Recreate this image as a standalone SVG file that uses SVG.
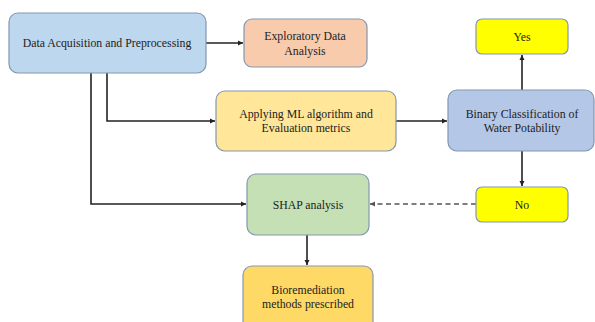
<svg xmlns="http://www.w3.org/2000/svg" width="595" height="322" viewBox="0 0 595 322">
<defs>
<style>
.box{stroke:#8497b0;stroke-width:1.2}
.t{font-family:"Liberation Serif","Times New Roman",serif;font-size:11.8px;fill:#222;text-anchor:middle}
.c{fill:none;stroke:#222;stroke-width:1.6}
.d{fill:none;stroke:#555;stroke-width:1.6;stroke-dasharray:5,3.5}
</style>
<marker id="ah" markerWidth="6" markerHeight="6" refX="5" refY="3" orient="auto" markerUnits="userSpaceOnUse">
<path d="M0,0.5 L5,3 L0,5.5 z" fill="#222"/>
</marker>
<marker id="ahg" markerWidth="6" markerHeight="6" refX="5" refY="3" orient="auto" markerUnits="userSpaceOnUse">
<path d="M0,0.5 L5,3 L0,5.5 z" fill="#555"/>
</marker>
</defs>
<rect width="595" height="322" fill="#fff"/>
<g id="connectors">
<path class="c" d="M206,43 H243" marker-end="url(#ah)"/>
<path class="c" d="M107,73 V121 H215" marker-end="url(#ah)"/>
<path class="c" d="M91,73 V204 H246" marker-end="url(#ah)"/>
<path class="c" d="M396,121 H447" marker-end="url(#ah)"/>
<path class="c" d="M522,90 V55" marker-end="url(#ah)"/>
<path class="c" d="M522,151 V186" marker-end="url(#ah)"/>
<path class="c" d="M307,235 V265" marker-end="url(#ah)"/>
<path class="d" d="M476,204 H370" marker-end="url(#ahg)"/>
</g>
<g id="data-acquisition">
<rect class="box" x="9" y="13" width="197" height="60" rx="9" fill="#bdd7ee"/>
<text class="t" x="107" y="47">Data Acquisition and Preprocessing</text>
</g>
<g id="eda">
<rect class="box" x="244" y="19" width="123" height="48" rx="8" fill="#f8cbad"/>
<text class="t" x="305" y="40">Exploratory Data</text>
<text class="t" x="305" y="55">Analysis</text>
</g>
<g id="ml">
<rect class="box" x="216" y="91" width="180" height="60" rx="9" fill="#ffe699"/>
<text class="t" x="306" y="118">Applying ML algorithm and</text>
<text class="t" x="306" y="132">Evaluation metrics</text>
</g>
<g id="binary">
<rect class="box" x="448" y="90" width="146" height="61" rx="9" fill="#b4c7e7"/>
<text class="t" x="522" y="118">Binary Classification of</text>
<text class="t" x="522" y="132">Water Potability</text>
</g>
<g id="yes">
<rect class="box" x="476" y="19" width="92" height="35" rx="6" fill="#ffff00"/>
<text class="t" x="522" y="41">Yes</text>
</g>
<g id="no">
<rect class="box" x="476" y="187" width="92" height="35" rx="6" fill="#ffff00"/>
<text class="t" x="522" y="209">No</text>
</g>
<g id="shap">
<rect class="box" x="247" y="174" width="122" height="61" rx="9" fill="#c5e0b4"/>
<text class="t" x="308" y="209">SHAP analysis</text>
</g>
<g id="bioremediation">
<rect class="box" x="243" y="266" width="130" height="66" rx="9" fill="#ffd966"/>
<text class="t" x="308" y="294">Bioremediation</text>
<text class="t" x="308" y="308">methods prescribed</text>
</g>
</svg>
